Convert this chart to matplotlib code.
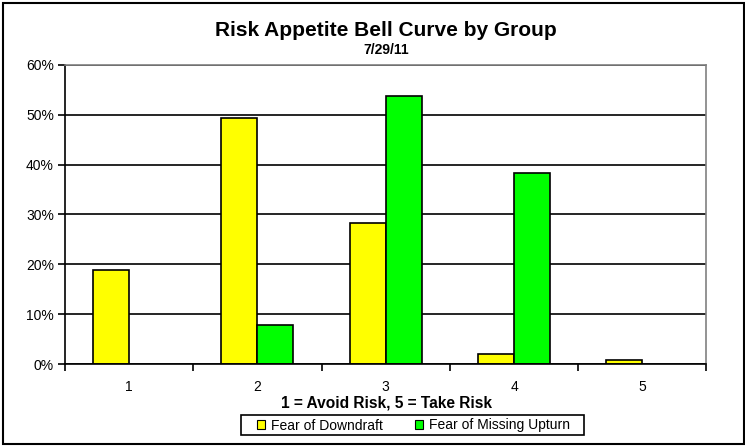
import numpy as np
import matplotlib.pyplot as plt
from matplotlib.patches import Rectangle

plt.rcParams['font.family'] = ['Liberation Sans', 'DejaVu Sans']

categories = ['1', '2', '3', '4', '5']
downdraft = [18.9, 49.4, 28.3, 2.1, 0.9]
missing_upturn = [0.0, 7.8, 53.8, 38.4, 0.0]
y_ticks = [0, 10, 20, 30, 40, 50, 60]

W, H = 745, 447
fig = plt.figure(figsize=(W / 100, H / 100), dpi=100)
ax = fig.add_axes([0.0872, 0.185, 0.8611, 0.6703])

x = np.arange(len(categories))
w = 0.28
ax.bar(x - w / 2, downdraft, w, color='#ffff00', edgecolor='black', linewidth=1.2,
       label='Fear of Downdraft', zorder=3)
# zero values are left out so no flat outline shows
gx = [xi for xi, v in zip(x, missing_upturn) if v > 0]
gv = [v for v in missing_upturn if v > 0]
ax.bar(np.array(gx) + w / 2, gv, w, color='#00ff00', edgecolor='black', linewidth=1.2,
       label='Fear of Missing Upturn', zorder=3)

ax.set_xlim(-0.5, len(categories) - 0.5)
ax.set_ylim(0, 60)
ax.set_yticks(y_ticks)
ax.set_yticklabels([f'{v}%' for v in y_ticks], fontsize=10)
ax.set_xticks(x)
ax.set_xticklabels(categories, fontsize=10)
ax.set_xticks(np.arange(-0.5, len(categories)), minor=True)
ax.tick_params(axis='x', which='major', length=0, pad=11.5)
ax.tick_params(axis='x', which='minor', length=5, width=1.2, direction='out')
ax.tick_params(axis='y', length=5, width=1.2, direction='out', pad=3)

ax.yaxis.grid(True, color='black', linewidth=1.2, zorder=1)
ax.set_axisbelow(True)
for s in ['top', 'right']:
    ax.spines[s].set_color('#808080')
    ax.spines[s].set_linewidth(1.2)
for s in ['left', 'bottom']:
    ax.spines[s].set_color('black')
    ax.spines[s].set_linewidth(1.2)
ax.spines['bottom'].set_zorder(4)

# titles and axis caption placed by baseline
fig.text(0.518, 1 - 36 / H, 'Risk Appetite Bell Curve by Group', ha='center', va='baseline',
         fontsize=15, fontweight='bold')
fig.text(0.518, 1 - 54.3 / H, '7/29/11', ha='center', va='baseline', fontsize=10,
         fontweight='bold')
fig.text(386.5 / W, 1 - 408 / H, '1 = Avoid Risk, 5 = Take Risk', ha='center',
         va='baseline', fontsize=11.2, fontweight='bold')

# legend: entries without frame, box drawn separately
handles, labels = ax.get_legend_handles_labels()
leg = fig.legend(handles, labels, loc='center', bbox_to_anchor=(413.5 / W, 1 - 425.5 / H),
                 ncol=2, fontsize=10, frameon=False, handlelength=0.6, handleheight=0.6,
                 handletextpad=0.45, columnspacing=2.3, borderpad=0, borderaxespad=0)
for p in leg.legend_handles:
    p.set_linewidth(0.8)
fig.patches.append(Rectangle((241 / W, 1 - 435 / H), 343 / W, 20 / H,
                             transform=fig.transFigure, fill=False, edgecolor='black',
                             linewidth=1.2))

# outer chart border
fig.patches.append(Rectangle((0.004, 0.006), 0.994, 0.988, transform=fig.transFigure,
                             fill=False, edgecolor='black', linewidth=1.5))

fig.savefig('out.png', dpi=100)
